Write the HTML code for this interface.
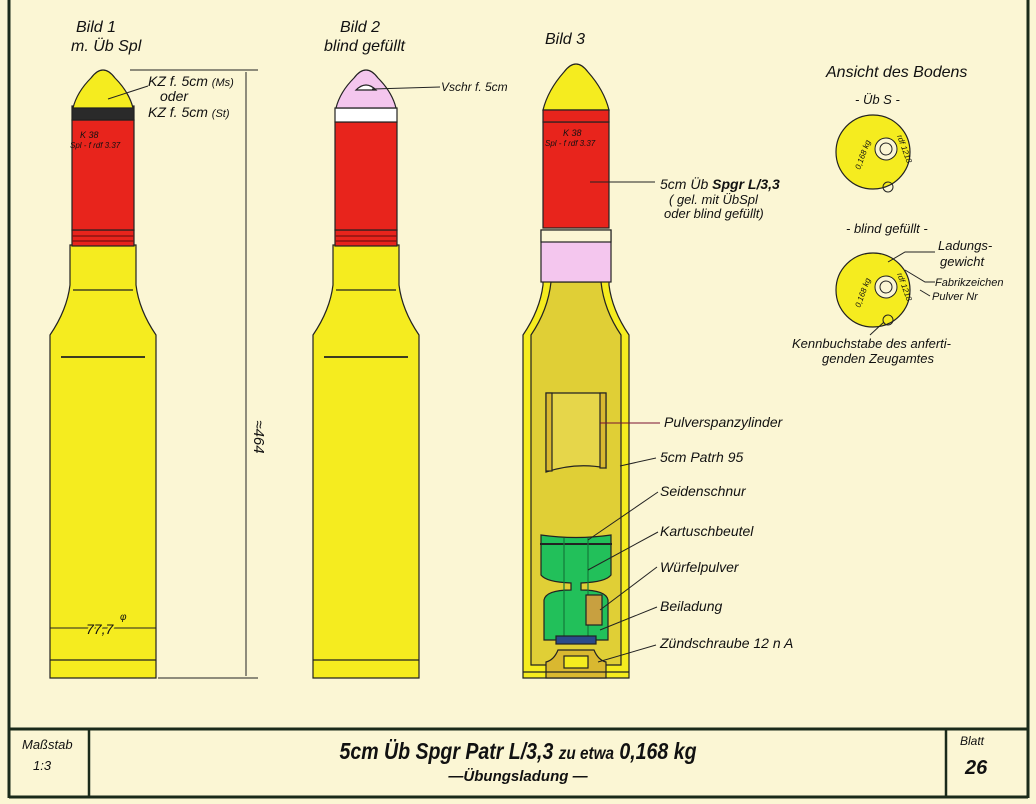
<!DOCTYPE html>
<html><head><meta charset="utf-8"><style>
html,body{margin:0;padding:0;background:#fbf6d4}
svg{display:block}
text{font-family:"Liberation Sans",sans-serif;font-style:italic;fill:#111}
</style></head><body>
<svg width="1036" height="804" viewBox="0 0 1036 804" xmlns="http://www.w3.org/2000/svg">
<rect width="1036" height="804" fill="#fbf6d4"/>
<!-- frame -->
<g stroke="#1a2a1a" fill="none">
<line x1="9" y1="0" x2="9" y2="798" stroke-width="3"/>
<line x1="1028" y1="0" x2="1028" y2="798" stroke-width="3"/>
<line x1="9" y1="729" x2="1028" y2="729" stroke-width="3"/>
<line x1="9" y1="797" x2="1028" y2="797" stroke-width="3"/>
<line x1="89" y1="729" x2="89" y2="797" stroke-width="2.5"/>
<line x1="946" y1="729" x2="946" y2="797" stroke-width="2.5"/>
</g>
<text x="22" y="749" font-size="13">Maßstab</text>
<text x="33" y="770" font-size="13" font-style="normal">1:3</text>
<text x="960" y="745" font-size="12">Blatt</text>
<text x="965" y="774" font-size="20" font-weight="bold" font-style="normal">26</text>
<text x="518" y="759" font-size="23" font-weight="bold" text-anchor="middle" transform="translate(518 0) scale(0.85 1) translate(-518 0)">5cm Üb Spgr Patr L/3,3 <tspan font-size="18">zu etwa</tspan> 0,168 kg</text>
<text x="518" y="781" font-size="15" font-weight="bold" text-anchor="middle">—Übungsladung —</text>

<!-- generic cartridge defs -->
<defs>
<path id="case" d="M-33,245 L33,245 L33,285 Q36,310 53,335 L53,678 L-53,678 L-53,335 Q-36,310 -33,285 Z"/>
<path id="nose" d="M0,70 Q-6,70 -12,78 Q-26,92 -30,108 L30,108 Q26,92 12,78 Q6,70 0,70 Z"/>
</defs>

<!-- Shell 1 -->
<g transform="translate(103 0)" stroke="#222" stroke-width="1.2">
<use href="#case" fill="#f5ec1f"/>
<rect x="-31" y="230" width="62" height="16" fill="#e8241c"/>
<line x1="-31" y1="236" x2="31" y2="236" stroke="#7a1010"/>
<line x1="-31" y1="241" x2="31" y2="241" stroke="#7a1010"/>
<rect x="-31" y="120" width="62" height="110" fill="#e8241c"/>
<rect x="-31" y="106" width="62" height="14" fill="#2a2a2a"/>
<use href="#nose" fill="#f5ec1f"/>
<line x1="-30" y1="290" x2="30" y2="290"/>
<line x1="-42" y1="357" x2="42" y2="357" stroke-width="1.8"/>
<line x1="-53" y1="660" x2="53" y2="660"/>
</g>
<text x="80" y="138" font-size="9" font-style="normal">K 38</text>
<text x="70" y="148" font-size="8" font-style="normal">Spl - f  rdf 3.37</text>
<text x="76" y="32" font-size="16">Bild 1</text>
<text x="71" y="51" font-size="16">m. Üb Spl</text>
<text x="148" y="86" font-size="14">KZ f. 5cm <tspan font-size="11">(Ms)</tspan></text>
<text x="160" y="101" font-size="14">oder</text>
<text x="148" y="117" font-size="14">KZ f. 5cm <tspan font-size="11">(St)</tspan></text>
<line x1="108" y1="99" x2="148" y2="86" stroke="#222"/>
<!-- dimension -->
<g stroke="#222" stroke-width="1">
<line x1="130" y1="70" x2="258" y2="70"/>
<line x1="158" y1="678" x2="258" y2="678"/>
<line x1="246" y1="72" x2="246" y2="676"/>
<line x1="50" y1="628" x2="156" y2="628"/>
<line x1="50" y1="618" x2="50" y2="640"/><line x1="156" y1="618" x2="156" y2="640"/>
</g>
<text x="254" y="437" font-size="15" transform="rotate(90 254 437)" text-anchor="middle">≈464</text>
<text x="86" y="634" font-size="14" fill="#111" style="paint-order:stroke" stroke="#f5ec1f" stroke-width="4">77,7</text>
<text x="120" y="620" font-size="10">φ</text>

<!-- Shell 2 -->
<g transform="translate(366 0)" stroke="#222" stroke-width="1.2">
<use href="#case" fill="#f5ec1f"/>
<rect x="-31" y="230" width="62" height="16" fill="#e8241c"/>
<line x1="-31" y1="236" x2="31" y2="236" stroke="#7a1010"/>
<line x1="-31" y1="241" x2="31" y2="241" stroke="#7a1010"/>
<rect x="-31" y="122" width="62" height="108" fill="#e8241c"/>
<rect x="-31" y="108" width="62" height="14" fill="#ffffff"/>
<use href="#nose" fill="#f4c6ee"/>
<path d="M-10,90 Q0,80 10,90 Z" fill="#fff"/>
<line x1="-30" y1="290" x2="30" y2="290"/>
<line x1="-42" y1="357" x2="42" y2="357" stroke-width="1.8"/>
<line x1="-53" y1="660" x2="53" y2="660"/>
</g>
<text x="340" y="32" font-size="16">Bild 2</text>
<text x="324" y="51" font-size="16">blind gefüllt</text>
<text x="441" y="91" font-size="12">Vschr f. 5cm</text>
<line x1="372" y1="89" x2="440" y2="87" stroke="#222"/>

<!-- Shell 3 -->
<g transform="translate(576 0)" stroke="#222" stroke-width="1.2">
<use href="#case" fill="#f5ec1f"/>
<path d="M-25,282 L25,282 Q28,310 45,335 L45,665 L-45,665 L-45,335 Q-28,310 -25,282 Z" fill="#e0cf36"/>
<rect x="-35" y="230" width="70" height="52" fill="#f4c6ee"/>
<rect x="-35" y="230" width="70" height="12" fill="#fbf6d4"/>
<rect x="-33" y="122" width="66" height="106" fill="#e8241c"/>
<path d="M0,64 Q-6,64 -12,72 Q-28,90 -33,110 L33,110 Q28,90 12,72 Q6,64 0,64 Z" fill="#f5ec1f"/>
<rect x="-33" y="110" width="66" height="12" fill="#e8241c"/>
<!-- pulver cylinder -->
<path d="M-30,393 L30,393 L30,468 Q0,462 -30,472 Z" fill="#e6d64a"/>
<rect x="-30" y="393" width="6" height="78" fill="#d9b830"/>
<rect x="24" y="393" width="6" height="75" fill="#d9b830"/>
<!-- green bags -->
<path d="M-35,535 Q0,540 35,535 L35,575 Q30,582 5,583 L5,590 Q30,590 32,600 L32,640 L-32,640 L-32,600 Q-30,590 -5,590 L-5,583 Q-30,582 -35,575 Z" fill="#22c05a"/>
<line x1="-36" y1="544" x2="36" y2="544" stroke-width="2"/>
<line x1="-12" y1="538" x2="-12" y2="640" stroke="#147a38"/>
<line x1="12" y1="538" x2="12" y2="640" stroke="#147a38"/>
<rect x="10" y="595" width="16" height="30" fill="#c8a040"/>
<rect x="-20" y="636" width="40" height="8" fill="#2a4a8a"/>
<path d="M-30,678 L-30,662 Q-22,660 -18,650 L18,650 Q22,660 30,662 L30,678 Z" fill="#d9b830"/>
<rect x="-12" y="656" width="24" height="12" fill="#f5ec1f"/>
<line x1="-53" y1="672" x2="53" y2="672"/>
</g>
<text x="545" y="44" font-size="16">Bild 3</text>
<text x="563" y="136" font-size="9" font-style="normal">K 38</text>
<text x="545" y="146" font-size="8" font-style="normal">Spl - f  rdf 3.37</text>

<g stroke="#222" stroke-width="1" fill="none">
<line x1="590" y1="182" x2="655" y2="182"/>
<line x1="600" y1="423" x2="660" y2="423" stroke="#7a1030"/>
<line x1="620" y1="466" x2="656" y2="458"/>
<line x1="588" y1="540" x2="658" y2="492"/>
<line x1="588" y1="570" x2="658" y2="532"/>
<line x1="600" y1="610" x2="657" y2="567"/>
<line x1="600" y1="630" x2="657" y2="607"/>
<line x1="598" y1="662" x2="656" y2="645"/>
</g>
<text x="660" y="189" font-size="14">5cm Üb <tspan font-weight="bold">Spgr L/3,3</tspan></text>
<text x="669" y="204" font-size="13">( gel. mit ÜbSpl</text>
<text x="664" y="218" font-size="13">oder blind gefüllt)</text>
<text x="664" y="427" font-size="14">Pulverspanzylinder</text>
<text x="660" y="462" font-size="14">5cm Patrh 95</text>
<text x="660" y="496" font-size="14">Seidenschnur</text>
<text x="660" y="536" font-size="14">Kartuschbeutel</text>
<text x="660" y="572" font-size="14">Würfelpulver</text>
<text x="660" y="611" font-size="14">Beiladung</text>
<text x="660" y="648" font-size="14">Zündschraube 12 n A</text>

<!-- Ansicht des Bodens -->
<text x="826" y="77" font-size="16" font-style="normal">Ansicht des Bodens</text>
<text x="855" y="104" font-size="13">- Üb S -</text>
<circle cx="873" cy="152" r="37" fill="#f5ec1f" stroke="#222" stroke-width="1.2"/>
<circle cx="886" cy="149" r="11" fill="#fbf6d4" stroke="#222"/>
<circle cx="886" cy="149" r="6" fill="none" stroke="#222"/>
<text x="860" y="170" font-size="8" transform="rotate(-70 860 170)">0,168 kg</text>
<text x="897" y="136" font-size="8" transform="rotate(70 897 136)">rdf 1218</text>
<circle cx="888" cy="187" r="5" fill="none" stroke="#222"/>
<text x="846" y="233" font-size="13">- blind gefüllt -</text>
<circle cx="873" cy="290" r="37" fill="#f5ec1f" stroke="#222" stroke-width="1.2"/>
<circle cx="886" cy="287" r="11" fill="#fbf6d4" stroke="#222"/>
<circle cx="886" cy="287" r="6" fill="none" stroke="#222"/>
<text x="860" y="308" font-size="8" transform="rotate(-70 860 308)">0,168 kg</text>
<text x="897" y="274" font-size="8" transform="rotate(70 897 274)">rdf 1218</text>
<circle cx="888" cy="320" r="5" fill="none" stroke="#222"/>
<g stroke="#222" fill="none">
<path d="M888,262 L905,252 L935,252"/>
<path d="M905,270 L925,282 L935,282"/>
<path d="M920,290 L930,296"/>
<path d="M884,322 L870,335"/>
</g>
<text x="938" y="250" font-size="13">Ladungs-</text>
<text x="940" y="266" font-size="13">gewicht</text>
<text x="935" y="286" font-size="11">Fabrikzeichen</text>
<text x="932" y="300" font-size="11">Pulver Nr</text>
<text x="792" y="348" font-size="13">Kennbuchstabe des anferti-</text>
<text x="822" y="363" font-size="13">genden Zeugamtes</text>
</svg>
</body></html>
